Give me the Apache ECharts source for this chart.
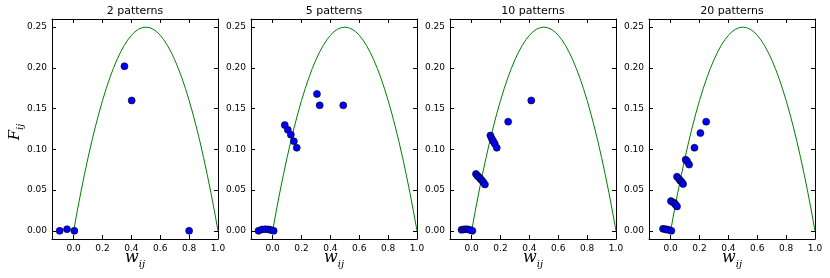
<!DOCTYPE html>
<html>
<head>
<meta charset="utf-8">
<script src="https://cdn.jsdelivr.net/npm/echarts@6/dist/echarts.min.js"></script>
<style>html,body{margin:0;padding:0;background:#fff}#c{width:830px;height:278px}</style>
</head>
<body>
<div id="c"></div>
<script>
const titles = ['2 patterns', '5 patterns', '10 patterns', '20 patterns'];

const curveX = [0, 0.025, 0.05, 0.075, 0.1, 0.125, 0.15, 0.175, 0.2, 0.225, 0.25, 0.275, 0.3, 0.325, 0.35, 0.375, 0.4, 0.425, 0.45, 0.475, 0.5,
  0.525, 0.55, 0.575, 0.6, 0.625, 0.65, 0.675, 0.7, 0.725, 0.75, 0.775, 0.8, 0.825, 0.85, 0.875, 0.9, 0.925, 0.95, 0.975, 1.0];
const curveY = [0, 0.024375, 0.0475, 0.069375, 0.09, 0.109375, 0.1275, 0.144375, 0.16, 0.174375, 0.1875, 0.199375, 0.21, 0.219375, 0.2275, 0.234375, 0.24, 0.244375, 0.2475, 0.249375, 0.25,
  0.249375, 0.2475, 0.244375, 0.24, 0.234375, 0.2275, 0.219375, 0.21, 0.199375, 0.1875, 0.174375, 0.16, 0.144375, 0.1275, 0.109375, 0.09, 0.069375, 0.0475, 0.024375, 0];

const xTicks = [0, 0.2, 0.4, 0.6, 0.8, 1.0];
const yTicks = [0, 0.05, 0.1, 0.15, 0.2, 0.25];

const w2x = [-0.097, -0.046, 0.005, 0.352, 0.402, 0.80];
const f2y = [0, 0.002, 0, 0.202, 0.160, 0];

const w5x = [-0.098, -0.074, -0.051, -0.028, -0.012, 0.007, 0.084, 0.105, 0.126, 0.147, 0.167, 0.307, 0.326, 0.489];
const f5y = [0, 0.0017, 0.002, 0.0018, 0.001, 0, 0.1298, 0.124, 0.118, 0.110, 0.102, 0.168, 0.154, 0.154];

const w10x = [-0.07, -0.055, -0.04, -0.025, -0.01, 0.005, 0.03, 0.04, 0.05, 0.06, 0.07, 0.08, 0.092, 0.13, 0.14, 0.15, 0.16, 0.174, 0.253, 0.413];
const f10y = [0.0012, 0.0018, 0.002, 0.0018, 0.001, 0, 0.0698, 0.0675, 0.066, 0.064, 0.062, 0.06, 0.057, 0.117, 0.113, 0.110, 0.107, 0.102, 0.134, 0.160];

const w20x = [-0.053, -0.037, -0.026, -0.014, 0.005, 0.002, 0.016, 0.028, 0.035, 0.044, 0.044, 0.058, 0.067, 0.077, 0.086, 0.104, 0.114, 0.128, 0.165, 0.206, 0.246];
const f20y = [0.0025, 0.002, 0.0016, 0.0012, 0, 0.0365, 0.035, 0.0337, 0.032, 0.030, 0.0665, 0.0636, 0.0616, 0.060, 0.0575, 0.0874, 0.0854, 0.0813, 0.102, 0.120, 0.134];

const panelsX = [w2x, w5x, w10x, w20x];
const panelsY = [f2y, f5y, f10y, f20y];

const gridLefts = [52, 251, 450, 649];
const gridW = 166, gridTop = 19, gridH = 220;

const chart = echarts.init(document.getElementById('c'), null, {renderer: 'canvas'});

const grids = [], xAxes = [], yAxes = [], series = [], graphics = [];
const lineStyle = {color: '#000', width: 1};
const font = 'DejaVu Sans';

gridLefts.forEach((L, i) => {
  grids.push({left: L, top: gridTop, width: gridW, height: gridH, containLabel: false});
  const xBase = {
    type: 'value', gridIndex: i, min: -0.15, max: 1.0,
    splitLine: {show: false},
    axisLine: {show: true, onZero: false, lineStyle},
    axisTick: {show: true, inside: true, length: 4, lineStyle, customValues: xTicks}
  };
  xAxes.push(Object.assign({}, xBase, {
    position: 'bottom',
    axisLabel: {show: true, customValues: xTicks, color: '#000', fontFamily: font, fontSize: 9, margin: 5,
      formatter: v => v.toFixed(1)}
  }));
  xAxes.push(Object.assign({}, xBase, {position: 'top', axisLabel: {show: false}}));
  const yBase = {
    type: 'value', gridIndex: i, min: -0.01, max: 0.26,
    splitLine: {show: false},
    axisLine: {show: true, onZero: false, lineStyle},
    axisTick: {show: true, inside: true, length: 4, lineStyle, customValues: yTicks}
  };
  yAxes.push(Object.assign({}, yBase, {
    position: 'left',
    axisLabel: {show: true, customValues: yTicks, color: '#000', fontFamily: font, fontSize: 9, margin: 5,
      formatter: v => v.toFixed(2)}
  }));
  yAxes.push(Object.assign({}, yBase, {position: 'right', axisLabel: {show: false}}));

  series.push({
    type: 'line', xAxisIndex: 2 * i, yAxisIndex: 2 * i,
    data: curveX.map((x, k) => [x, curveY[k]]),
    showSymbol: false, symbol: 'none', smooth: false,
    lineStyle: {color: '#008000', width: 1}, z: 2, silent: true, clip: true
  });
  series.push({
    type: 'scatter', xAxisIndex: 2 * i, yAxisIndex: 2 * i,
    data: panelsX[i].map((x, k) => [x, panelsY[i][k]]),
    symbol: 'circle', symbolSize: 7,
    itemStyle: {color: '#0000ff', borderColor: '#000', borderWidth: 0.6, opacity: 1},
    z: 3, silent: true
  });

  const cx = L + gridW / 2;
  graphics.push({
    type: 'text', x: cx, y: 11,
    style: {text: titles[i], fill: '#000', font: '11px "DejaVu Sans"', align: 'center', verticalAlign: 'middle'}
  });
  graphics.push({
    type: 'text', x: cx, y: 258,
    style: {
      text: '{w|w}{s|ij}', align: 'center', verticalAlign: 'middle', fill: '#000',
      rich: {
        w: {fontFamily: 'DejaVu Serif', fontStyle: 'italic', fontSize: 16, fill: '#000', verticalAlign: 'top', lineHeight: 16},
        s: {fontFamily: 'DejaVu Serif', fontStyle: 'italic', fontSize: 10, fill: '#000', verticalAlign: 'top', lineHeight: 10, padding: [9, 0, 0, 0]}
      }
    }
  });
});

graphics.push({
  type: 'text', x: 15, y: 132, rotation: Math.PI / 2,
  style: {
    text: '{w|F}{s|ij}', align: 'center', verticalAlign: 'middle', fill: '#000',
    rich: {
      w: {fontFamily: 'DejaVu Serif', fontStyle: 'italic', fontSize: 15, fill: '#000', verticalAlign: 'top', lineHeight: 15},
      s: {fontFamily: 'DejaVu Serif', fontStyle: 'italic', fontSize: 10, fill: '#000', verticalAlign: 'top', lineHeight: 10, padding: [8, 0, 0, 0]}
    }
  }
});

chart.setOption({
  animation: false,
  backgroundColor: '#fff',
  grid: grids,
  xAxis: xAxes,
  yAxis: yAxes,
  series: series,
  graphic: graphics
});
</script>
</body>
</html>
